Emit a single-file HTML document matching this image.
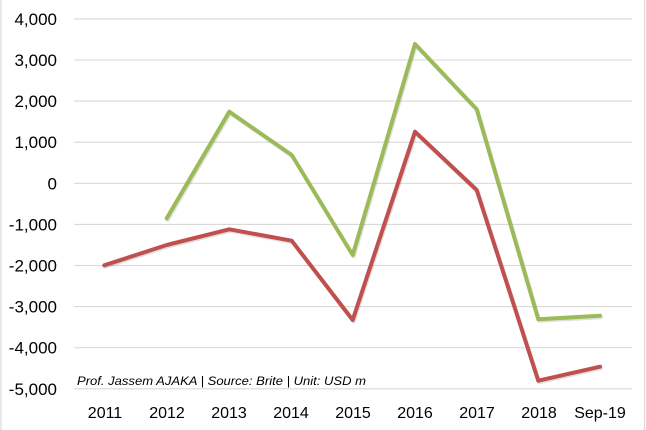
<!DOCTYPE html>
<html>
<head>
<meta charset="utf-8">
<style>
  html, body { margin: 0; padding: 0; background: #fff; }
  svg { display: block; }
  text { font-family: "Liberation Sans", Arial, sans-serif; fill: #000; }
</style>
</head>
<body>
<svg width="646" height="430" viewBox="0 0 646 430" xmlns="http://www.w3.org/2000/svg">
  <rect x="0" y="0" width="646" height="430" fill="#fff"/>
  <!-- borders -->
  <line x1="1" y1="0" x2="1" y2="430" stroke="#d9d9d9" stroke-width="1.2"/>
  <line x1="644.5" y1="0" x2="644.5" y2="430" stroke="#d9d9d9" stroke-width="1.2"/>

  <!-- gridlines -->
  <g stroke="#d9d9d9" stroke-width="1.1">
    <line x1="74" y1="18.9" x2="632" y2="18.9"/>
    <line x1="74" y1="60" x2="632" y2="60"/>
    <line x1="74" y1="101.1" x2="632" y2="101.1"/>
    <line x1="74" y1="142.2" x2="632" y2="142.2"/>
    <line x1="74" y1="183.3" x2="632" y2="183.3"/>
    <line x1="74" y1="224.4" x2="632" y2="224.4"/>
    <line x1="74" y1="265.5" x2="632" y2="265.5"/>
    <line x1="74" y1="306.6" x2="632" y2="306.6"/>
    <line x1="74" y1="347.7" x2="632" y2="347.7"/>
    <line x1="74" y1="388.8" x2="632" y2="388.8"/>
  </g>

  <!-- y labels -->
  <g font-size="17" text-anchor="end">
    <text x="57" y="25">4,000</text>
    <text x="57" y="66">3,000</text>
    <text x="57" y="107">2,000</text>
    <text x="57" y="148">1,000</text>
    <text x="57" y="189.5">0</text>
    <text x="57" y="230.5">-1,000</text>
    <text x="57" y="271.5">-2,000</text>
    <text x="57" y="312.5">-3,000</text>
    <text x="57" y="353.5">-4,000</text>
    <text x="57" y="395">-5,000</text>
  </g>

  <!-- x labels -->
  <g font-size="16" text-anchor="middle">
    <text x="105" y="418">2011</text>
    <text x="167" y="418">2012</text>
    <text x="229" y="418">2013</text>
    <text x="291" y="418">2014</text>
    <text x="353" y="418">2015</text>
    <text x="415" y="418">2016</text>
    <text x="477" y="418">2017</text>
    <text x="539" y="418">2018</text>
    <text x="600" y="418">Sep-19</text>
  </g>

  <!-- annotation -->
  <text x="77" y="385" font-size="11.5" font-style="italic" textLength="289" lengthAdjust="spacingAndGlyphs">Prof. Jassem AJAKA | Source: Brite | Unit: USD m</text>

  <!-- shadows -->
  <g fill="none" stroke="#000" stroke-opacity="0.12" stroke-width="4" stroke-linejoin="round" stroke-linecap="round" transform="translate(1,1.5)">
    <polyline points="166.7,218.3 229.3,111.7 291.7,155 352.7,255 415,44 476.7,109.3 538.3,319.3 600,315.7"/>
    <polyline points="104.3,265.3 166.7,245 229.3,229.3 291.7,240.7 352.7,320 415,131.7 476.7,190 538.3,380.7 600,366.7"/>
  </g>

  <!-- green series -->
  <polyline fill="none" stroke="#9BBB59" stroke-width="4" stroke-linejoin="round" stroke-linecap="round"
    points="166.7,218.3 229.3,111.7 291.7,155 352.7,255 415,44 476.7,109.3 538.3,319.3 600,315.7"/>
  <!-- red series -->
  <polyline fill="none" stroke="#C0504D" stroke-width="4" stroke-linejoin="round" stroke-linecap="round"
    points="104.3,265.3 166.7,245 229.3,229.3 291.7,240.7 352.7,320 415,131.7 476.7,190 538.3,380.7 600,366.7"/>
</svg>
</body>
</html>
